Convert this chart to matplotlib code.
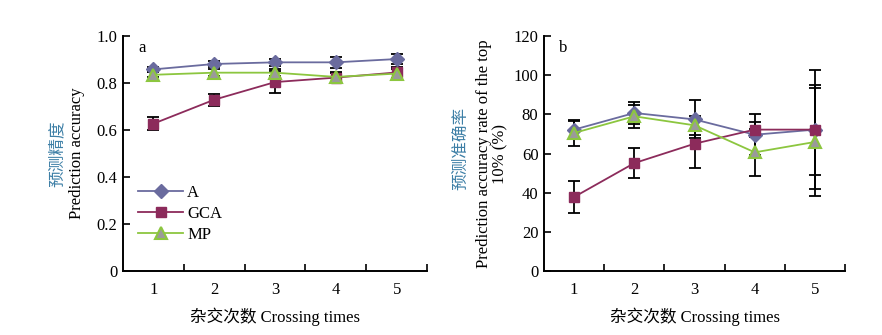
import numpy as np
import matplotlib.pyplot as plt
from matplotlib.ticker import FixedLocator, FuncFormatter

plt.rcParams['font.family'] = ['Liberation Serif', 'Noto Sans CJK SC']

crossing = [1, 2, 3, 4, 5]
series = ['A', 'GCA', 'MP']

# panel a: prediction accuracy
acc_mean = {'A': [0.858, 0.881, 0.888, 0.888, 0.902],
            'GCA': [0.627, 0.729, 0.804, 0.823, 0.845],
            'MP': [0.835, 0.844, 0.844, 0.826, 0.840]}
acc_err = {'A': [0.012, 0.012, 0.015, 0.022, 0.021],
           'GCA': [0.028, 0.025, 0.045, 0.018, 0.025],
           'MP': [0.010, 0.015, 0.015, 0.020, 0.020]}

# panel b: prediction accuracy rate of the top 10%
top_mean = {'A': [72.2, 80.7, 77.4, 69.6, 72.2],
            'GCA': [37.8, 55.1, 65.0, 72.2, 72.2],
            'MP': [70.5, 79.0, 74.4, 60.6, 65.9]}
top_err = {'A': [4.3, 5.5, 9.7, 10.4, 23.0],
           'GCA': [8.4, 7.5, 12.2, 4.0, 30.3],
           'MP': [6.8, 6.0, 5.0, 12.0, 27.5]}

styles = {'A': dict(color='#6a6b9e', marker='D', mfc='#6a6b9e', mec='#6a6b9e', ms=7),
          'GCA': dict(color='#8c2b5b', marker='s', mfc='#8c2b5b', mec='#8c2b5b', ms=7),
          'MP': dict(color='#8cc63f', marker='^', mfc='#9a9a9a', mec='#8cc63f', ms=8, mew=1.5)}

FS = 12

fig = plt.figure(figsize=(8.82, 3.35), dpi=100)
ax1 = fig.add_axes([0.1395, 0.191, 0.3447, 0.7015])
ax2 = fig.add_axes([0.6168, 0.191, 0.3413, 0.7015])


def style_axes(ax, ymax, ystep, fmt):
    for s in ['top', 'right']:
        ax.spines[s].set_visible(False)
    for s in ['left', 'bottom']:
        ax.spines[s].set_linewidth(1.4)
    ax.set_xlim(0.5, 5.5)
    ax.set_ylim(0, ymax)
    # ticks sit between categories, labels in the middle
    ax.xaxis.set_major_locator(FixedLocator([1.5, 2.5, 3.5, 4.5, 5.5]))
    ax.xaxis.set_minor_locator(FixedLocator(crossing))
    ax.xaxis.set_major_formatter(FuncFormatter(lambda v, p: ''))
    ax.xaxis.set_minor_formatter(FuncFormatter(lambda v, p: '%d' % v))
    ax.tick_params(axis='x', which='major', direction='in', length=5, width=1.2)
    ax.tick_params(axis='x', which='minor', length=0, pad=8, labelsize=FS)
    ax.set_yticks(np.arange(0, ymax + ystep / 2, ystep))
    ax.yaxis.set_major_formatter(FuncFormatter(fmt))
    ax.tick_params(axis='y', direction='in', length=5, width=1.2, labelsize=FS, pad=4)
    ax.set_xlabel('杂交次数 Crossing times', fontsize=FS, labelpad=7)


for ax, means, errs in [(ax1, acc_mean, acc_err), (ax2, top_mean, top_err)]:
    for name in series:
        ax.errorbar(crossing, means[name], yerr=errs[name], fmt='none',
                    ecolor='black', elinewidth=1.3, capsize=4, capthick=1.3, zorder=2)
    for name in series:
        ax.plot(crossing, means[name], lw=1.3, label=name, zorder=3, **styles[name])

style_axes(ax1, 1.0, 0.2, lambda v, p: '0' if v == 0 else '%.1f' % v)
style_axes(ax2, 120, 20, lambda v, p: '%d' % v)

ax1.text(0.05, 0.985, 'a', transform=ax1.transAxes, fontsize=FS, va='top')
ax2.text(0.05, 0.985, 'b', transform=ax2.transAxes, fontsize=FS, va='top')

ax1.legend(loc='lower left', bbox_to_anchor=(0.0, 0.055), frameon=False,
           fontsize=FS, handlelength=2.7, handletextpad=0.25, labelspacing=0.3)

# y labels: Chinese line in blue, English in black
ax1.text(-0.217, 0.5, '预测精度', transform=ax1.transAxes, rotation=90,
         ha='center', va='center', fontsize=FS, color='#3d7fa6',
         family=['Noto Sans CJK SC', 'Liberation Serif'])
ax1.text(-0.151, 0.5, 'Prediction accuracy', transform=ax1.transAxes, rotation=90,
         ha='center', va='center', fontsize=FS)
ax2.text(-0.276, 0.52, '预测准确率', transform=ax2.transAxes, rotation=90,
         ha='center', va='center', fontsize=FS, color='#3d7fa6',
         family=['Noto Sans CJK SC', 'Liberation Serif'])
ax2.text(-0.172, 0.5, 'Prediction accuracy rate of the top\n10% (%)',
         transform=ax2.transAxes, rotation=90, ha='center', va='center',
         fontsize=FS, linespacing=1.1, multialignment='center')

fig.savefig('out.png', dpi=100)
